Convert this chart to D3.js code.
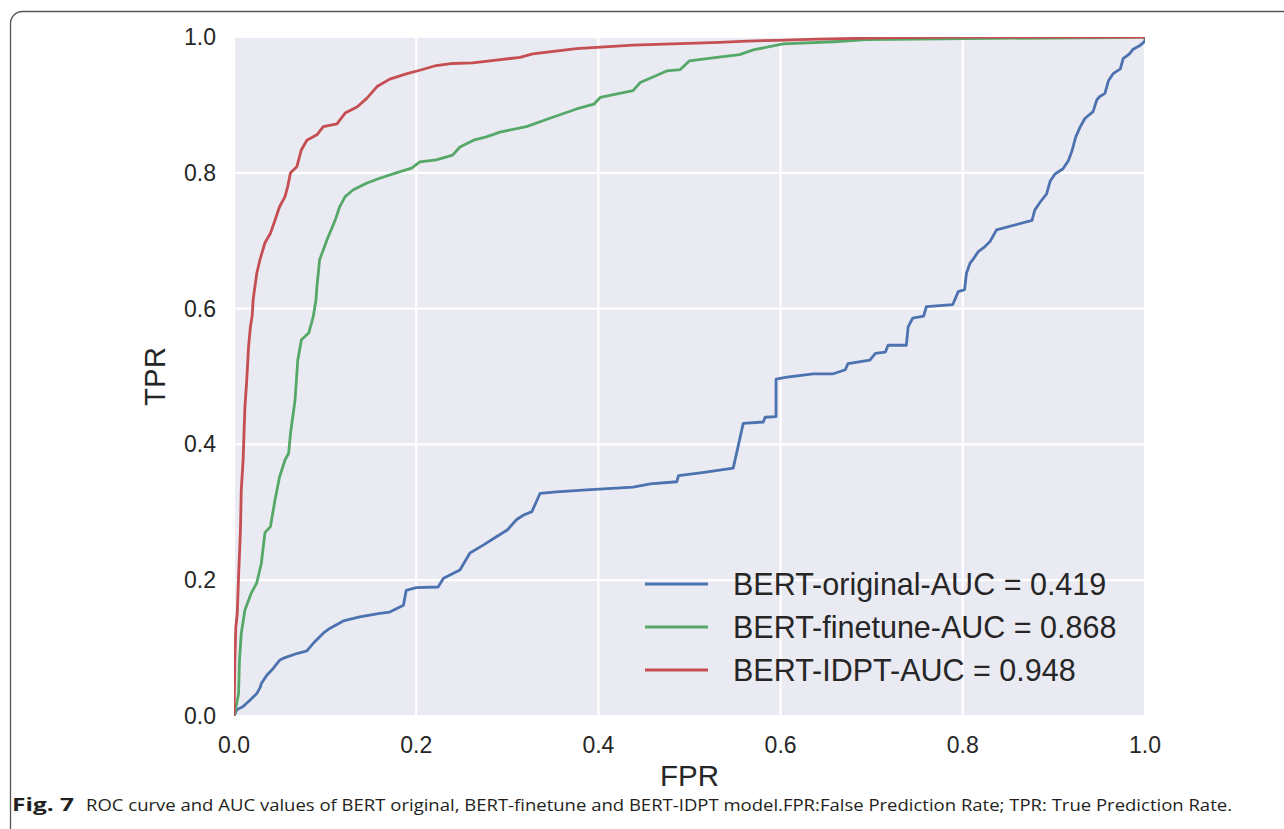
<!DOCTYPE html>
<html>
<head>
  <meta charset="utf-8">
  <title>ROC curve</title>
  <script src="https://d3js.org/d3.v7.min.js"></script>
  <style>
    body { margin: 0; background: #fff; }
    .tick-label { font-family: "Liberation Sans", Arial, sans-serif; font-size: 23px; fill: #262626; }
    .axis-title { font-family: "Liberation Sans", Arial, sans-serif; font-size: 29.5px; fill: #262626; }
    .legend-text { font-family: "Liberation Sans", Arial, sans-serif; font-size: 30.5px; fill: #262626; }
    .caption { font-family: "Open Sans", "Noto Sans", sans-serif; font-size: 17px; fill: #231f20; }
  </style>
</head>
<body>
  <svg id="chart" width="1284" height="829"></svg>

  <script>
    // tick values on both axes
    const ticks = [0.0, 0.2, 0.4, 0.6, 0.8, 1.0];

    // BERT original
    const fprOriginal = [0, 0.003, 0.010, 0.018, 0.025, 0.029, 0.030, 0.036, 0.043, 0.050, 0.056, 0.069, 0.080, 0.087,
      0.098, 0.105, 0.120, 0.138, 0.160, 0.171, 0.186, 0.189, 0.200, 0.224, 0.230, 0.248, 0.259, 0.274, 0.288,
      0.300, 0.310, 0.318, 0.327, 0.331, 0.336, 0.354, 0.387, 0.438, 0.457, 0.486, 0.488, 0.512, 0.533, 0.548,
      0.559, 0.581, 0.583, 0.595, 0.595, 0.607, 0.636, 0.658, 0.671, 0.674, 0.698, 0.704, 0.715, 0.718, 0.738,
      0.740, 0.745, 0.757, 0.760, 0.789, 0.795, 0.802, 0.804, 0.808, 0.811, 0.817, 0.824, 0.830, 0.837, 0.876,
      0.879, 0.885, 0.892, 0.896, 0.901, 0.910, 0.916, 0.920, 0.924, 0.929, 0.934, 0.943, 0.947, 0.950, 0.956,
      0.960, 0.965, 0.973, 0.976, 0.983, 0.987, 0.994, 1.0, 1.0];
    const tprOriginal = [0, 0.009, 0.014, 0.024, 0.033, 0.043, 0.048, 0.060, 0.070, 0.082, 0.086, 0.092, 0.096, 0.107,
      0.122, 0.129, 0.140, 0.146, 0.151, 0.153, 0.163, 0.185, 0.189, 0.190, 0.203, 0.215, 0.240, 0.252, 0.264,
      0.274, 0.289, 0.296, 0.301, 0.313, 0.328, 0.330, 0.333, 0.337, 0.342, 0.345, 0.354, 0.358, 0.362, 0.365,
      0.431, 0.433, 0.440, 0.441, 0.496, 0.499, 0.504, 0.504, 0.510, 0.519, 0.524, 0.534, 0.536, 0.546, 0.546,
      0.573, 0.586, 0.589, 0.603, 0.606, 0.625, 0.628, 0.652, 0.667, 0.672, 0.684, 0.691, 0.699, 0.716, 0.730,
      0.745, 0.757, 0.769, 0.788, 0.798, 0.806, 0.818, 0.833, 0.853, 0.868, 0.880, 0.890, 0.907, 0.912, 0.917,
      0.936, 0.946, 0.953, 0.968, 0.975, 0.982, 0.987, 0.994, 1.0];

    // BERT finetune
    const fprFinetune = [0, 0.001, 0.005, 0.006, 0.008, 0.012, 0.019, 0.025, 0.030, 0.034, 0.040, 0.045, 0.050, 0.056,
      0.060, 0.062, 0.067, 0.070, 0.074, 0.082, 0.087, 0.090, 0.091, 0.094, 0.102, 0.111, 0.116, 0.122, 0.131,
      0.146, 0.160, 0.178, 0.195, 0.204, 0.222, 0.240, 0.248, 0.263, 0.277, 0.292, 0.321, 0.346, 0.376, 0.395,
      0.402, 0.438, 0.446, 0.475, 0.490, 0.500, 0.530, 0.555, 0.570, 0.603, 0.658, 0.694, 0.833, 0.970, 1.0];
    const tprFinetune = [0, 0.004, 0.033, 0.082, 0.122, 0.156, 0.181, 0.196, 0.225, 0.270, 0.279, 0.318, 0.352, 0.377,
      0.387, 0.416, 0.465, 0.524, 0.554, 0.564, 0.588, 0.613, 0.632, 0.672, 0.701, 0.730, 0.750, 0.765, 0.775,
      0.785, 0.792, 0.800, 0.807, 0.816, 0.819, 0.826, 0.838, 0.848, 0.853, 0.860, 0.868, 0.880, 0.894, 0.901,
      0.911, 0.921, 0.933, 0.950, 0.952, 0.965, 0.970, 0.974, 0.981, 0.990, 0.993, 0.996, 0.998, 0.999, 1.0];

    // BERT IDPT
    const fprIDPT = [0, 0.001, 0.002, 0.0036, 0.005, 0.007, 0.008, 0.010, 0.011, 0.012, 0.014, 0.016, 0.018, 0.020,
      0.021, 0.025, 0.0285, 0.034, 0.040, 0.045, 0.050, 0.056, 0.059, 0.062, 0.069, 0.074, 0.080, 0.091, 0.098,
      0.113, 0.122, 0.135, 0.146, 0.157, 0.171, 0.190, 0.204, 0.222, 0.240, 0.262, 0.288, 0.314, 0.328, 0.376,
      0.438, 0.533, 0.563, 0.595, 0.640, 0.727, 0.800, 1.0];
    const tprIDPT = [0, 0.082, 0.131, 0.151, 0.205, 0.270, 0.333, 0.377, 0.416, 0.455, 0.495, 0.544, 0.573, 0.590,
      0.613, 0.652, 0.672, 0.697, 0.711, 0.730, 0.750, 0.765, 0.780, 0.800, 0.809, 0.834, 0.848, 0.856, 0.868,
      0.872, 0.888, 0.897, 0.910, 0.927, 0.938, 0.946, 0.951, 0.958, 0.961, 0.962, 0.966, 0.970, 0.975, 0.983,
      0.988, 0.992, 0.994, 0.995, 0.997, 0.999, 1.0, 1.0];

    const seriesNames = ["BERT-original-AUC = 0.419", "BERT-finetune-AUC = 0.868", "BERT-IDPT-AUC = 0.948"];
    const seriesColors = ["#4c72b0", "#55a868", "#c44e52"];

    const series = [
      d3.zip(fprOriginal, tprOriginal),
      d3.zip(fprFinetune, tprFinetune),
      d3.zip(fprIDPT, tprIDPT)
    ];

    const svg = d3.select("#chart");

    // rounded frame around the figure
    svg.append("rect")
      .attr("x", 10.5).attr("y", 11.5)
      .attr("width", 1320).attr("height", 900)
      .attr("rx", 12)
      .attr("fill", "none")
      .attr("stroke", "#555")
      .attr("stroke-width", 1.3);

    // plot area
    const plotLeft = 234, plotRight = 1145, plotTop = 37, plotBottom = 716;
    const x = d3.scaleLinear().domain([0, 1]).range([plotLeft, plotRight]);
    const y = d3.scaleLinear().domain([0, 1]).range([plotBottom, plotTop]);

    svg.append("rect")
      .attr("x", plotLeft).attr("y", plotTop)
      .attr("width", plotRight - plotLeft).attr("height", plotBottom - plotTop)
      .attr("fill", "#eaeaf2");

    // grid lines
    svg.append("g").selectAll("line")
      .data(ticks)
      .join("line")
      .attr("x1", d => x(d)).attr("x2", d => x(d))
      .attr("y1", plotTop).attr("y2", plotBottom)
      .attr("stroke", "#fff").attr("stroke-width", 2.2);

    svg.append("g").selectAll("line")
      .data(ticks)
      .join("line")
      .attr("x1", plotLeft).attr("x2", plotRight)
      .attr("y1", d => y(d)).attr("y2", d => y(d))
      .attr("stroke", "#fff").attr("stroke-width", 2.2);

    // tick labels
    svg.append("g").selectAll("text")
      .data(ticks)
      .join("text")
      .attr("class", "tick-label")
      .attr("x", d => x(d))
      .attr("y", plotBottom + 37)
      .attr("text-anchor", "middle")
      .text(d => d.toFixed(1));

    svg.append("g").selectAll("text")
      .data(ticks)
      .join("text")
      .attr("class", "tick-label")
      .attr("x", plotLeft - 18)
      .attr("y", d => y(d) + 8)
      .attr("text-anchor", "end")
      .text(d => d.toFixed(1));

    // axis titles
    svg.append("text")
      .attr("class", "axis-title")
      .attr("x", (plotLeft + plotRight) / 2)
      .attr("y", 786)
      .attr("text-anchor", "middle")
      .text("FPR");

    svg.append("text")
      .attr("class", "axis-title")
      .attr("transform", `translate(165, ${(plotTop + plotBottom) / 2}) rotate(-90)`)
      .attr("text-anchor", "middle")
      .text("TPR");

    // curves, clipped to the axes
    svg.append("clipPath").attr("id", "plot-clip")
      .append("rect")
      .attr("x", plotLeft).attr("y", plotTop)
      .attr("width", plotRight - plotLeft).attr("height", plotBottom - plotTop);

    const line = d3.line()
      .x(d => x(d[0]))
      .y(d => y(d[1]));

    svg.append("g")
      .attr("clip-path", "url(#plot-clip)")
      .selectAll("path")
      .data(series)
      .join("path")
      .attr("d", line)
      .attr("fill", "none")
      .attr("stroke", (d, i) => seriesColors[i])
      .attr("stroke-width", 2.8)
      .attr("stroke-linejoin", "round");

    // legend
    const legend = svg.append("g").selectAll("g")
      .data(seriesNames)
      .join("g")
      .attr("transform", (d, i) => `translate(645, ${584 + i * 43})`);

    legend.append("line")
      .attr("x1", 0).attr("x2", 63)
      .attr("stroke", (d, i) => seriesColors[i])
      .attr("stroke-width", 2.8);

    legend.append("text")
      .attr("class", "legend-text")
      .attr("x", 88)
      .attr("y", 11)
      .text(d => d);

    // caption
    svg.append("text")
      .attr("class", "caption")
      .attr("x", 12).attr("y", 811)
      .attr("font-weight", "bold")
      .attr("textLength", 62)
      .attr("lengthAdjust", "spacingAndGlyphs")
      .text("Fig. 7");

    svg.append("text")
      .attr("class", "caption")
      .attr("x", 86).attr("y", 811)
      .attr("textLength", 1146)
      .attr("lengthAdjust", "spacingAndGlyphs")
      .text("ROC curve and AUC values of BERT original, BERT-finetune and BERT-IDPT model.FPR:False Prediction Rate; TPR: True Prediction Rate.");
  </script>
</body>
</html>
